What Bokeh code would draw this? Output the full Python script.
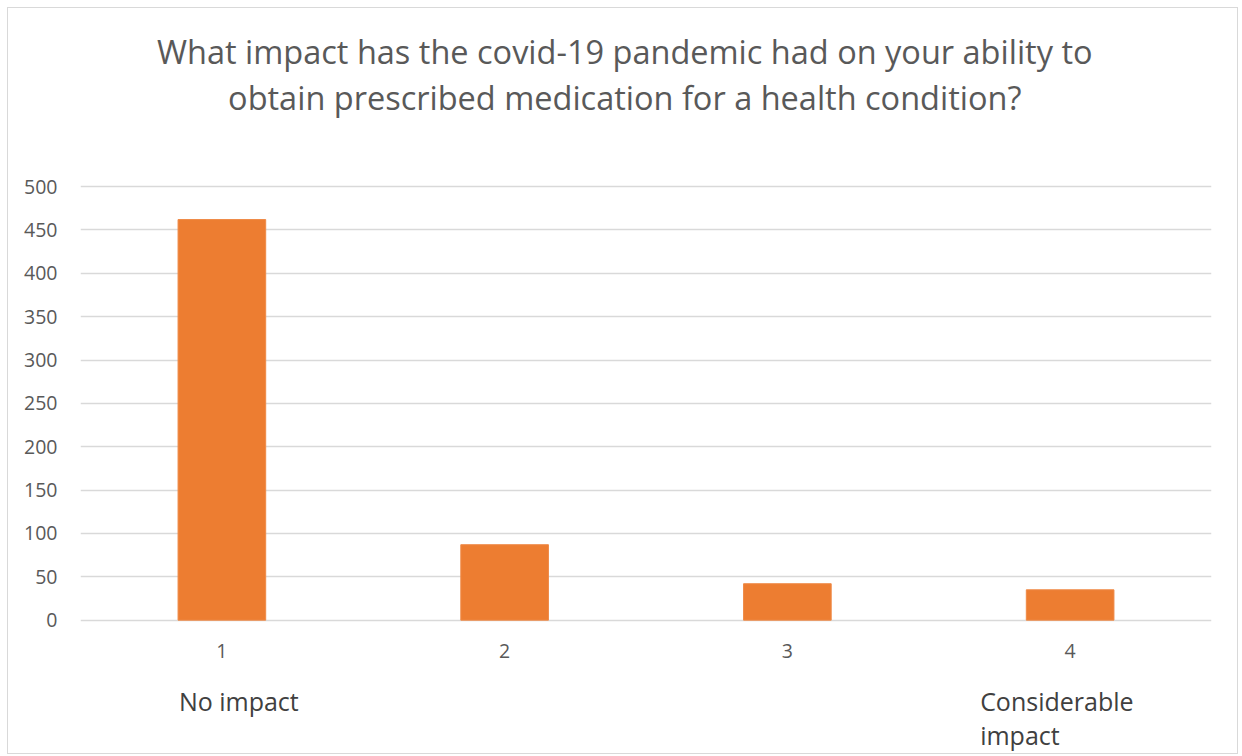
from bokeh.plotting import figure
from bokeh.models import FactorRange, Range1d, FixedTicker
from bokeh.core.properties import value
from bokeh.embed import file_html
from bokeh.resources import INLINE

categories = ["1", "2", "3", "4"]
counts = [462, 87, 42, 35]
y_ticks = [0, 50, 100, 150, 200, 250, 300, 350, 400, 450, 500]
title_lines = [
    "What impact has the covid-19 pandemic had on your ability to",
    "obtain prescribed medication for a health condition?",
]
low_label = "No impact"
high_label = ["Considerable", "impact"]

TEXT = "#595959"
FONT = "Open Sans"

p = figure(
    x_range=FactorRange(factors=categories),
    y_range=Range1d(-156.1, 705.4),
    width=1231, height=747,
    output_backend="svg", toolbar_location=None,
    min_border_left=72, min_border_right=28,
    min_border_top=0, min_border_bottom=0,
    styles={"border": "1px solid #d9d9d9"},
)
p.margin = (7, 0, 0, 7)
p.outline_line_color = None
p.background_fill_color = "white"
p.border_fill_color = "white"

p.vbar(x=categories, top=counts, width=0.31, color="#ED7D31", line_color="#EF8A47", line_width=1)

p.xaxis.visible = False
p.xgrid.grid_line_color = None
p.ygrid.grid_line_color = "#d9d9d9"
p.ygrid.grid_line_width = 1.5
p.ygrid.ticker = FixedTicker(ticks=y_ticks)

p.yaxis.ticker = FixedTicker(ticks=y_ticks)
p.yaxis.axis_line_color = None
p.yaxis.major_tick_line_color = None
p.yaxis.minor_tick_line_color = None
p.yaxis.major_tick_out = 0
p.yaxis.major_tick_in = 0
p.yaxis.major_label_text_font = FONT
p.yaxis.major_label_text_font_size = "19.5px"
p.yaxis.major_label_text_color = TEXT
p.yaxis.major_label_standoff = 23

# category tick labels below the zero line
p.text(x=categories, y=[-35.5] * len(categories), text=categories,
       text_align="center", text_baseline="middle",
       text_font=value(FONT), text_font_size="19.5px", text_color=TEXT)

# title (centred on the whole chart)
p.text(x=[1.925, 1.925], y=[656, 603], text=title_lines,
       text_align="center", text_baseline="middle",
       text_font=value(FONT), text_font_size="32.5px", text_color=TEXT)

# scale end descriptions
p.text(x=["1"], y=[-93], text=[low_label], x_offset=-43,
       text_align="left", text_baseline="middle",
       text_font=value(FONT), text_font_size="25px", text_color="#404040")
p.text(x=["4", "4"], y=[-93, -132], text=high_label, x_offset=-90,
       text_align="left", text_baseline="middle",
       text_font=value(FONT), text_font_size="25px", text_color="#404040")

open("out.html", "w").write(file_html(p, INLINE))
